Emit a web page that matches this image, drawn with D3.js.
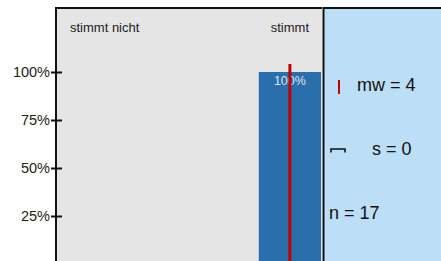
<!DOCTYPE html>
<html>
<head>
<meta charset="utf-8">
<script src="https://cdn.jsdelivr.net/npm/d3@7"></script>
<style>
  body { margin: 0; background: #fff; }
  svg { display: block; font-family: Arial, "Liberation Sans", sans-serif; }
</style>
</head>
<body>
<div id="chart"></div>
<script>
const width = 441, height = 261;

// data
const categories = ["stimmt nicht", "eher nicht", "eher", "stimmt"];
const shownLabels = ["stimmt nicht", "stimmt"];
const percents = [0, 0, 0, 100];
const yTicks = [25, 50, 75, 100];
const mean = 4, sd = 0, n = 17;

const plotLeft = 56, plotRight = 322, plotTop = 8;

const svg = d3.select("#chart").append("svg")
  .attr("width", width)
  .attr("height", height);

const x = d3.scaleBand()
  .domain(categories)
  .range([58, 321])
  .paddingInner(0.07)
  .paddingOuter(0);

const y = d3.scaleLinear()
  .domain([0, 100])
  .range([264, 72]);

// mean as position: category index 1..4
const xMean = d3.scaleLinear()
  .domain([1, categories.length])
  .range([x(categories[0]) + x.bandwidth() / 2, x(categories[categories.length - 1]) + x.bandwidth() / 2]);

// backgrounds
svg.append("rect")
  .attr("x", plotLeft).attr("y", plotTop)
  .attr("width", plotRight - plotLeft).attr("height", height - plotTop)
  .attr("fill", "#e5e5e5");

svg.append("rect")
  .attr("x", plotRight).attr("y", plotTop)
  .attr("width", width - plotRight).attr("height", height - plotTop)
  .attr("fill", "#bcdef6");

// bars
svg.selectAll("rect.bar")
  .data(categories.map((c, i) => ({ c, v: percents[i] })).filter(d => d.v > 0))
  .enter().append("rect")
  .attr("class", "bar")
  .attr("x", d => x(d.c))
  .attr("y", d => y(d.v))
  .attr("width", x.bandwidth())
  .attr("height", d => y(0) - y(d.v))
  .attr("fill", "#2a6eac");

svg.selectAll("text.barlabel")
  .data(categories.map((c, i) => ({ c, v: percents[i] })).filter(d => d.v > 0))
  .enter().append("text")
  .attr("class", "barlabel")
  .attr("x", d => x(d.c) + x.bandwidth() / 2)
  .attr("y", d => y(d.v) + 13)
  .attr("text-anchor", "middle")
  .attr("font-size", "12.5px")
  .attr("fill", "#dde6f0")
  .text(d => d.v + "%");

// mean line
svg.append("line")
  .attr("x1", xMean(mean)).attr("x2", xMean(mean))
  .attr("y1", 64).attr("y2", height)
  .attr("stroke", "#c00000")
  .attr("stroke-width", 3);

// category labels
svg.append("text")
  .attr("x", 70).attr("y", 32)
  .attr("font-size", "13px").attr("fill", "#222")
  .text(shownLabels[0]);

svg.append("text")
  .attr("x", x(categories[3]) + x.bandwidth() / 2).attr("y", 32)
  .attr("text-anchor", "middle")
  .attr("font-size", "13px").attr("fill", "#222")
  .text(shownLabels[1]);

// y axis
const yAxis = svg.append("g")
  .attr("transform", `translate(${plotLeft},0)`)
  .call(d3.axisLeft(y).tickValues(yTicks).tickSize(5).tickFormat(d => d + "%"));
yAxis.select(".domain").remove();
yAxis.selectAll(".tick line").attr("x1", -5).attr("x2", 6).attr("stroke", "#111").attr("stroke-width", 2);
yAxis.selectAll(".tick text")
  .attr("x", -6)
  .attr("font-size", "14.5px")
  .attr("font-family", "Arial, 'Liberation Sans', sans-serif")
  .attr("fill", "#222");

// frame lines
svg.append("line")
  .attr("x1", plotLeft).attr("x2", width)
  .attr("y1", plotTop).attr("y2", plotTop)
  .attr("stroke", "#111").attr("stroke-width", 2);
svg.append("line")
  .attr("x1", plotLeft).attr("x2", plotLeft)
  .attr("y1", plotTop - 1).attr("y2", height)
  .attr("stroke", "#111").attr("stroke-width", 2);
svg.append("line")
  .attr("x1", plotRight + 0.5).attr("x2", plotRight + 0.5)
  .attr("y1", plotTop - 1).attr("y2", height)
  .attr("stroke", "#fff").attr("stroke-width", 1);
svg.append("line")
  .attr("x1", plotRight + 1.5).attr("x2", plotRight + 1.5)
  .attr("y1", plotTop - 1).attr("y2", height)
  .attr("stroke", "#111").attr("stroke-width", 2);

// stats panel
svg.append("line")
  .attr("x1", 339).attr("x2", 339)
  .attr("y1", 80).attr("y2", 94)
  .attr("stroke", "#c00000").attr("stroke-width", 2);

svg.append("text")
  .attr("x", 357).attr("y", 91)
  .attr("font-size", "18px").attr("fill", "#111")
  .text(`mw = ${mean}`);

svg.append("path")
  .attr("d", "M331,152.5 V149 H345 V152.5")
  .attr("fill", "none")
  .attr("stroke", "#111").attr("stroke-width", 1.6);

svg.append("text")
  .attr("x", 372).attr("y", 155)
  .attr("font-size", "18px").attr("fill", "#111")
  .text(`s = ${sd}`);

svg.append("text")
  .attr("x", 329).attr("y", 219)
  .attr("font-size", "18px").attr("fill", "#111")
  .text(`n = ${n}`);
</script>
</body>
</html>
